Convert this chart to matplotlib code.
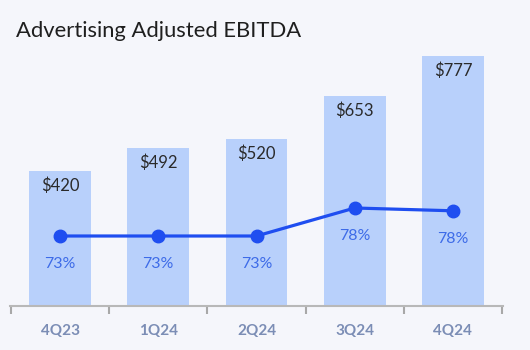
import matplotlib
matplotlib.use("Agg")
import matplotlib.pyplot as plt
import numpy as np

categories = ["4Q23", "1Q24", "2Q24", "3Q24", "4Q24"]
ebitda = [420, 492, 520, 653, 777]
margin = [73.0, 73.0, 73.0, 78.0, 77.5]
margin_labels = ["73%", "73%", "73%", "78%", "78%"]
title = "Advertising Adjusted EBITDA"

bg = "#f5f6fb"
bar_color = "#b8d0fb"
line_color = "#1f4ef0"
pct_color = "#3d6be8"
cat_color = "#7b8db5"

plt.rcParams['font.family'] = ['Lato', 'DejaVu Sans']

fig = plt.figure(figsize=(5.3, 3.5), dpi=100, facecolor=bg)
ax = fig.add_axes([10/530, 1-306/350, 493/530, 266/350])
ax.set_facecolor(bg)
x = np.arange(len(categories))
ax.bar(x, ebitda, width=0.63, color=bar_color, zorder=1)
ax.set_xlim(-0.51, len(categories) - 0.49)
ax.set_ylim(0, 826)
for xi, v in zip(x, ebitda):
    ax.text(xi, v - 48, f"${v}", ha="center", va="center", fontsize=12,
            color="#2a2a2a")

for s in ["top", "right", "left"]:
    ax.spines[s].set_visible(False)
ax.spines["bottom"].set_color("#b8b8b8")
ax.spines["bottom"].set_linewidth(1.5)
ax.set_yticks([])
ax.set_xticks(np.arange(-0.5, len(categories), 1.0))
ax.set_xticklabels([])
ax.tick_params(axis="x", length=6, width=1.5, color="#a8a8a8")
for xi, c in zip(x, categories):
    ax.text(xi, -0.093, c, transform=ax.get_xaxis_transform(), ha="center",
            va="center", fontsize=11, fontweight="bold", color=cat_color)

ax2 = ax.twinx()
ax2.set_ylim(60.5, 108.0)
ax2.axis("off")
ax2.plot(x, margin, color=line_color, lw=2.3, marker="o", markersize=9, zorder=3)
for xi, m, lab in zip(x, margin, margin_labels):
    ax2.text(xi, m - 5.0, lab, ha="center", va="center", fontsize=11.5,
             color=pct_color)

fig.text(16/530, 1-31/350, title, fontsize=15.8, color="#1f1f1f", ha="left",
         va="center")

fig.savefig("out.png", dpi=100, facecolor=bg)
